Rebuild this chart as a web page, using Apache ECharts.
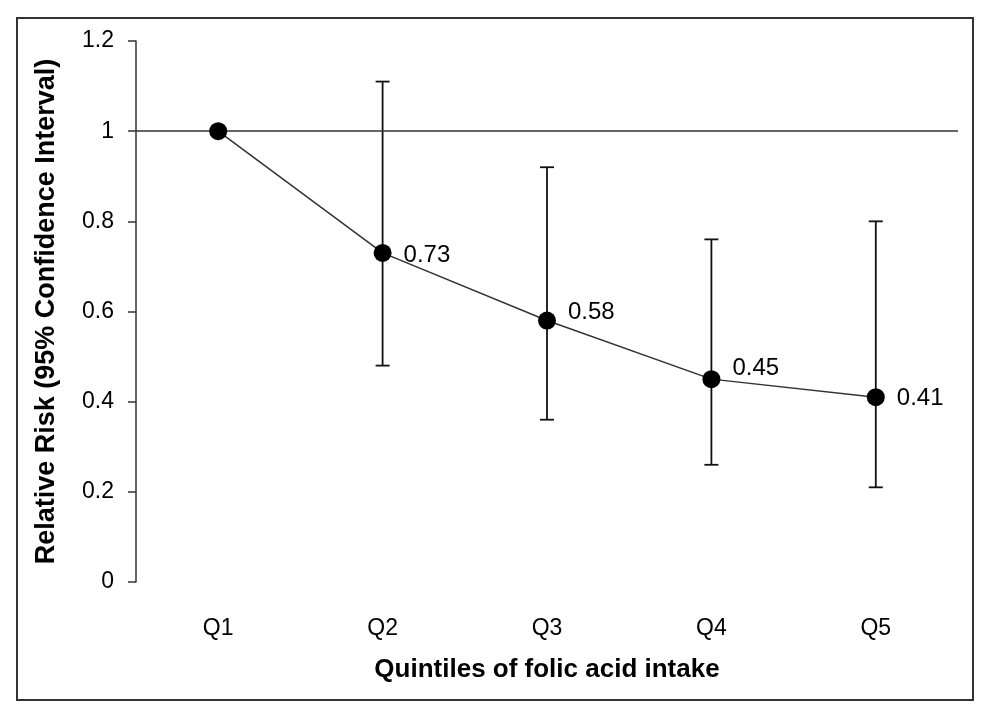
<!DOCTYPE html>
<html><head><meta charset="utf-8">
<script src="https://cdn.jsdelivr.net/npm/echarts@6/dist/echarts.min.js"></script>
<style>html,body{margin:0;padding:0;background:#fff}#c{width:985px;height:712px}</style>
</head><body><div id="c"></div>
<script>
const categories = ['Q1','Q2','Q3','Q4','Q5'];
const rr = [1, 0.73, 0.58, 0.45, 0.41];
const ciLow = [null, 0.48, 0.36, 0.26, 0.21];
const ciHigh = [null, 1.11, 0.92, 0.76, 0.80];
const pointLabels = ['', '0.73', '0.58', '0.45', '0.41'];
const labelOffsets = [[0,0],[0,2],[0,-8],[0,-11],[0,1]];

const font = '"Liberation Sans", Arial, sans-serif';
const chart = echarts.init(document.getElementById('c'), null, {renderer:'canvas'});
const errData = categories.map((c,i)=> ciLow[i]==null ? null : [i, ciLow[i], ciHigh[i]]).filter(d=>d);
chart.setOption({
  animation:false,
  backgroundColor:'#fff',
  graphic:[{type:'rect',shape:{x:17,y:18,width:956,height:682},style:{fill:'none',stroke:'#333',lineWidth:2},z:100}],
  grid:{left:136,right:27,top:41,bottom:130},
  xAxis:{type:'category',data:categories,boundaryGap:true,
    axisLine:{show:false},axisTick:{show:false},
    axisLabel:{fontFamily:font,fontSize:23,color:'#000',margin:35},
    name:'Quintiles of folic acid intake',nameLocation:'middle',nameGap:75,
    nameTextStyle:{fontFamily:font,fontSize:26,fontWeight:'bold',color:'#000'}},
  yAxis:{type:'value',min:0,max:1.2,interval:0.2,
    axisLine:{show:true,lineStyle:{color:'#333',width:1.5}},
    axisTick:{show:true,inside:false,length:8,lineStyle:{color:'#333',width:1.5}},
    splitLine:{show:false},
    axisLabel:{fontFamily:font,fontSize:23,color:'#000',margin:22,formatter:v=>String(+v.toFixed(1))},
    name:'Relative Risk (95% Confidence Interval)',nameLocation:'middle',nameGap:76,
    nameTextStyle:{fontFamily:font,fontSize:27,fontWeight:'bold',color:'#000'}},
  series:[
    {type:'custom',data:errData,z:3,
      renderItem:function(params,api){
        const x=api.value(0);
        const lo=api.coord([x,api.value(1)]);
        const hi=api.coord([x,api.value(2)]);
        const w=7;
        const st={stroke:'#111',lineWidth:1.8};
        return {type:'group',children:[
          {type:'line',shape:{x1:lo[0],y1:lo[1],x2:hi[0],y2:hi[1]},style:st},
          {type:'line',shape:{x1:lo[0]-w,y1:lo[1],x2:lo[0]+w,y2:lo[1]},style:st},
          {type:'line',shape:{x1:hi[0]-w,y1:hi[1],x2:hi[0]+w,y2:hi[1]},style:st}
        ]};
      }},
    {type:'line',data:rr.map((v,i)=>({value:v,label:{show:pointLabels[i]!=='',formatter:pointLabels[i],offset:labelOffsets[i]}})),
      z:5,symbol:'circle',symbolSize:18,
      itemStyle:{color:'#000'},lineStyle:{color:'#333',width:1.5},
      label:{position:'right',distance:12,fontFamily:font,fontSize:24,color:'#000'},
      markLine:{silent:true,symbol:'none',label:{show:false},
        lineStyle:{color:'#333',width:1.5,type:'solid'},data:[{yAxis:1}]}}
  ]
});
</script></body></html>
